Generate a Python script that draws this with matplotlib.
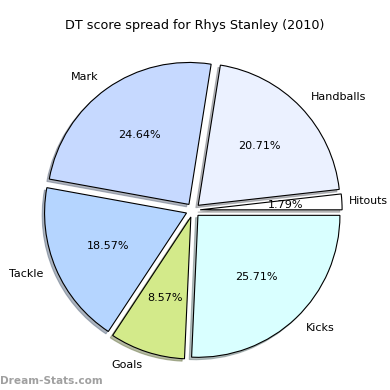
import matplotlib
matplotlib.use("Agg")
import matplotlib.pyplot as plt

labels = ["Hitouts", "Handballs", "Mark", "Tackle", "Goals", "Kicks"]
scores = [5, 58, 69, 52, 24, 72]
colors = ["#ffffff", "#ebf1ff", "#c6d9ff", "#b5d5ff", "#d3ea8a", "#d9ffff"]
explode = [0.05] * 6

fig = plt.figure(figsize=(3.9, 3.9), dpi=100)
ax = fig.add_axes([0.04, 0.006, 0.91, 0.91])

wedges, texts, autotexts = ax.pie(
    scores, labels=labels, colors=colors, explode=explode,
    autopct="%1.2f%%", startangle=0,
    shadow={"ox": -0.012, "oy": -0.012, "shade": 0.5},
    wedgeprops={"edgecolor": "black", "linewidth": 0.8},
    textprops={"fontsize": 8},
)
ax.set_aspect("equal")

# keep the last label inside the figure
x, y = texts[0].get_position()
texts[0].set_position((x - 0.05, y))
texts[0].set_fontsize(7.8)

fig.text(0.5, 0.935, "DT score spread for Rhys Stanley (2010)",
         ha="center", va="center", fontsize=9.2)
fig.text(0.0, 0.022, "Dream-Stats.com", ha="left", va="center",
         fontsize=7.6, color="#a0a0a0", fontweight="bold")

fig.savefig("out.png", dpi=100)
